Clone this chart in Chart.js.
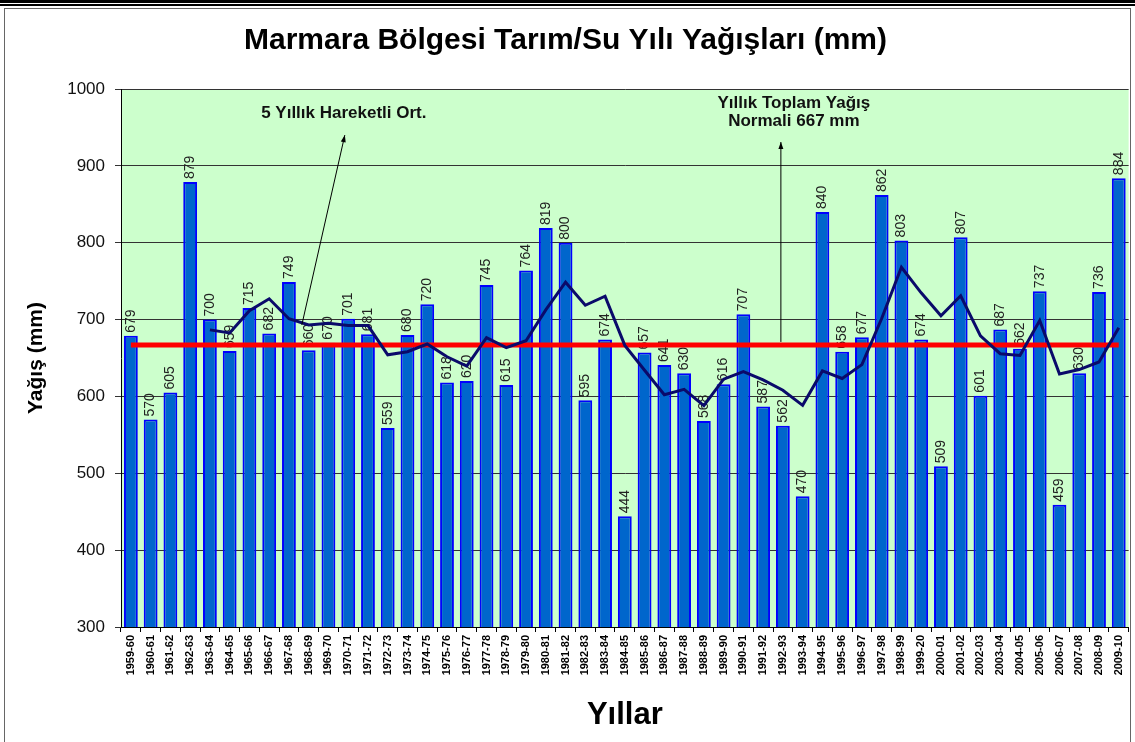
<!DOCTYPE html>
<html>
<head>
<meta charset="utf-8">
<script src="https://cdn.jsdelivr.net/npm/chart.js@4.4.1/dist/chart.umd.min.js"></script>
<style>
  html, body { margin: 0; padding: 0; background: #fff; }
  #wrap { position: relative; width: 1135px; height: 742px; overflow: hidden; }
  .ln { position: absolute; left: 0; width: 1135px; background: #000; }
  #frame { position: absolute; left: 4px; top: 8px; width: 1127px; height: 740px; border: 1.5px solid #666; box-sizing: border-box; }
  canvas { position: absolute; left: 0; top: 0; }
</style>
</head>
<body>
<div id="wrap">
  <div class="ln" style="top:0px;height:3px;"></div>
  <div class="ln" style="top:4px;height:1.5px;"></div>
  <div id="frame"></div>
  <canvas id="c" width="1135" height="742"></canvas>
</div>
<script>
const categories = ["1959-60","1960-61","1961-62","1962-63","1963-64","1964-65","1965-66","1966-67","1967-68","1968-69",
  "1969-70","1970-71","1971-72","1972-73","1973-74","1974-75","1975-76","1976-77","1977-78","1978-79",
  "1979-80","1980-81","1981-82","1982-83","1983-84","1984-85","1985-86","1986-87","1987-88","1988-89",
  "1989-90","1990-91","1991-92","1992-93","1993-94","1994-95","1995-96","1996-97","1997-98","1998-99",
  "1999-20","2000-01","2001-02","2002-03","2003-04","2004-05","2005-06","2006-07","2007-08","2008-09","2009-10"];

const rainfall = [679,570,605,879,700,659,715,682,749,660,
  670,701,681,559,680,720,618,620,745,615,
  764,819,800,595,674,444,657,641,630,568,
  616,707,587,562,470,840,658,677,862,803,
  674,509,807,601,687,662,737,459,630,736,884];

const movingAvg5 = [null,null,null,null,686.6,682.6,711.6,727,701,693,
  695.2,692.4,692.2,654.2,658.2,668.2,651.6,639.4,676.6,663.6,
  672.4,712.6,748.6,718.6,730.4,666.4,634,602.2,609.2,588,
  622.4,632.4,621.6,608,588.4,633.2,623.4,641.4,701.4,768,
  734.8,705,731,678.8,655.6,653.2,698.8,629.2,635,644.8,689.2];

const normalValue = 667;
const yTicks = [300,400,500,600,700,800,900,1000];

const FONT = "'Liberation Sans', Arial, Helvetica, sans-serif";

const decorPlugin = {
  id: 'decor',
  beforeDraw(chart) {
    const {ctx, chartArea: a} = chart;
    ctx.save();
    ctx.fillStyle = '#CCFFCC';
    ctx.fillRect(a.left, a.top, a.right - a.left, a.bottom - a.top);
    ctx.restore();
  },
  afterDatasetDraw(chart, args) {
    if (args.index !== 0) return;
    const {ctx} = chart;
    const xs = chart.scales.x, ys = chart.scales.y;
    const meta = chart.getDatasetMeta(0);
    ctx.save();
    ctx.fillStyle = '#222';
    ctx.font = '14px ' + FONT;
    ctx.textAlign = 'left';
    ctx.textBaseline = 'middle';
    meta.data.forEach((bar, i) => {
      ctx.save();
      ctx.translate(bar.x, bar.y - 3);
      ctx.rotate(-Math.PI / 2);
      ctx.fillText(String(rainfall[i]), 0, 0);
      ctx.restore();
    });
    ctx.restore();
    const yN = ys.getPixelForValue(normalValue);
    ctx.save();
    ctx.strokeStyle = '#FF0000';
    ctx.lineWidth = 5;
    ctx.beginPath();
    ctx.moveTo(xs.getPixelForValue(0), yN);
    ctx.lineTo(xs.getPixelForValue(categories.length - 1), yN);
    ctx.stroke();
    ctx.restore();
  },
  afterDraw(chart) {
    const {ctx} = chart;
    const xs = chart.scales.x, ys = chart.scales.y;
    function arrow(x1, y1, x2, y2) {
      ctx.save();
      ctx.strokeStyle = '#000';
      ctx.fillStyle = '#000';
      ctx.lineWidth = 1;
      ctx.beginPath();
      ctx.moveTo(x1, y1);
      ctx.lineTo(x2, y2);
      ctx.stroke();
      const ang = Math.atan2(y2 - y1, x2 - x1);
      const L = 7, W = 2.5;
      ctx.beginPath();
      ctx.moveTo(x2, y2);
      ctx.lineTo(x2 - L * Math.cos(ang) + W * Math.sin(ang), y2 - L * Math.sin(ang) - W * Math.cos(ang));
      ctx.lineTo(x2 - L * Math.cos(ang) - W * Math.sin(ang), y2 - L * Math.sin(ang) + W * Math.cos(ang));
      ctx.closePath();
      ctx.fill();
      ctx.restore();
    }
    const tx = (xs.getPixelForValue(8) + xs.getPixelForValue(9)) / 2 + 3;
    const ty = ys.getPixelForValue(movingAvg5[9]);
    arrow(tx, ty, tx + 43, ys.getPixelForValue(940));
    const nx = xs.getPixelForValue(33) - 2;
    arrow(nx, ys.getPixelForValue(normalValue) - 3, nx, ys.getPixelForValue(931));
    ctx.save();
    ctx.fillStyle = '#111';
    ctx.font = 'bold 17px ' + FONT;
    ctx.textAlign = 'center';
    ctx.textBaseline = 'middle';
    ctx.fillText('5 Yıllık Hareketli Ort.', tx + 42, ys.getPixelForValue(969));
    ctx.fillText('Yıllık Toplam Yağış', nx + 13, ys.getPixelForValue(982));
    ctx.fillText('Normali 667 mm', nx + 13, ys.getPixelForValue(958));
    ctx.restore();
  }
};

new Chart(document.getElementById('c'), {
  type: 'bar',
  data: {
    labels: categories,
    datasets: [
      {
        type: 'bar',
        data: rainfall,
        backgroundColor: '#0066CC',
        borderColor: '#0000FF',
        borderWidth: 2,
        barPercentage: 0.7,
        categoryPercentage: 1.0,
        order: 2
      },
      {
        type: 'line',
        data: movingAvg5,
        borderColor: '#0A0A6A',
        borderWidth: 3,
        pointRadius: 0,
        tension: 0,
        fill: false,
        spanGaps: false,
        order: 1
      }
    ]
  },
  options: {
    responsive: false,
    animation: false,
    devicePixelRatio: 1,
    layout: { padding: { left: 0, right: 4, top: 0, bottom: 0 } },
    plugins: {
      legend: { display: false },
      tooltip: { enabled: false },
      title: {
        display: true,
        text: 'Marmara Bölgesi Tarım/Su Yılı Yağışları (mm)',
        color: '#000',
        font: { family: FONT, size: 30, weight: 'bold', lineHeight: 1.2 },
        padding: { top: 23, bottom: 30 }
      }
    },
    scales: {
      x: {
        offset: true,
        grid: { display: true, drawOnChartArea: false, drawTicks: true, tickLength: 5, color: '#000', offset: true },
        border: { display: true, color: '#000', width: 1 },
        ticks: {
          autoSkip: false, minRotation: 90, maxRotation: 90, padding: 3,
          color: '#000', font: { family: FONT, size: 11, weight: 'bold' }
        },
        title: {
          display: true, text: 'Yıllar', color: '#000',
          font: { family: FONT, size: 31, weight: 'bold', lineHeight: 1.2 },
          padding: { top: 0, bottom: 8 }
        },
        afterFit(scale) { scale.height = 742 - 627; }
      },
      y: {
        min: 300, max: 1000,
        afterBuildTicks(scale) { scale.ticks = yTicks.map(v => ({ value: v })); },
        grid: { color: '#333', lineWidth: 1, drawTicks: true, tickLength: 6 },
        border: { display: true, color: '#000', width: 1 },
        ticks: {
          padding: 10, color: '#111', font: { family: FONT, size: 17 },
          callback: (v) => String(v)
        },
        title: {
          display: true, text: 'Yağış (mm)', color: '#000',
          font: { family: FONT, size: 21, weight: 'bold', lineHeight: 1.2 },
          padding: { top: 24, bottom: 0 }
        },
        afterFit(scale) { scale.width = 121; }
      }
    }
  },
  plugins: [decorPlugin]
});
</script>
</body>
</html>
